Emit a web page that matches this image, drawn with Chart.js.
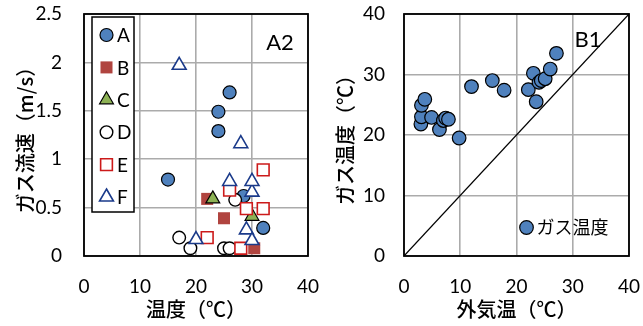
<!DOCTYPE html>
<html>
<head>
<meta charset="utf-8">
<script src="https://cdn.jsdelivr.net/npm/chart.js@4.4.1/dist/chart.umd.min.js"></script>
<style>
  html, body { margin: 0; padding: 0; background: #fff; }
  #wrap { position: relative; width: 643px; height: 326px; overflow: hidden; background: #fff; }
  canvas { position: absolute; top: 0; }
  #flowChart { left: 0; }
  #tempChart { left: 322px; }
</style>
</head>
<body>
<div id="wrap">
  <canvas id="flowChart" width="322" height="326"></canvas>
  <canvas id="tempChart" width="321" height="326"></canvas>
</div>
<script>
// ---- A2: gas flow velocity (m/s) against temperature (°C), six series ----
const seriesNames = ['A', 'B', 'C', 'D', 'E', 'F'];

const tempA = [15, 24, 24, 26, 28.5, 32];
const flowA = [0.79, 1.49, 1.29, 1.69, 0.62, 0.29];

const tempB = [22, 25, 30.4];
const flowB = [0.59, 0.39, 0.08];

const tempC = [23, 30];
const flowC = [0.59, 0.41];

const tempD = [17, 19, 25, 26, 27];
const flowD = [0.19, 0.08, 0.08, 0.08, 0.58];

const tempE = [22, 26, 28, 29, 32, 32];
const flowE = [0.19, 0.68, 0.08, 0.49, 0.49, 0.89];

const tempF = [17, 20, 26, 28, 29, 30, 30, 30];
const flowF = [1.97, 0.17, 0.77, 1.16, 0.27, 0.16, 0.66, 0.77];

const flowTicks = [0, 0.5, 1, 1.5, 2, 2.5];
const tempTicks = [0, 10, 20, 30, 40];

// ---- B1: gas temperature against outdoor temperature ----
const outdoorTemp = [3.0, 3.1, 3.1, 3.7, 4.9, 6.3, 7.0, 7.4, 7.9, 9.8, 12.0, 15.7, 17.8, 22.1, 23.0, 23.5, 24.0, 24.4, 25.1, 26.0, 27.1];
const gasTemp     = [21.8, 23.0, 24.9, 25.9, 22.9, 20.9, 22.4, 22.8, 22.6, 19.5, 28.0, 29.0, 27.4, 27.5, 30.2, 25.5, 28.7, 29.0, 29.3, 30.9, 33.5];
const equalLineX = [0, 40];
const equalLineY = [0, 40];
const gasTempTicks = [0, 10, 20, 30, 40];

const toPoints = (xs, ys) => xs.map((x, i) => ({ x, y: ys[i] }));

const LATIN = "Lato, 'Liberation Sans', sans-serif";
const CJK = "'Noto Sans CJK JP', sans-serif";
Chart.defaults.color = '#000';
Chart.defaults.font.family = LATIN;

const gridStyle = { color: '#ABABAB', lineWidth: 1.6, drawTicks: false };
const titleFont = { family: CJK, size: 20, weight: 500, lineHeight: 1.2 };
const tickFont = { size: 19, lineHeight: 1.2 };

// fixed axis box sizes, no extra label overhang padding
function fixedBox(prop, size) {
  return s => {
    s[prop] = size;
    s.paddingTop = 0; s.paddingBottom = 0; s.paddingLeft = 0; s.paddingRight = 0;
  };
}

// plot frame drawn under the markers
const framePlugin = {
  id: 'frame',
  beforeDatasetsDraw(chart) {
    const { ctx, chartArea: a } = chart;
    ctx.save();
    ctx.strokeStyle = '#000';
    ctx.lineWidth = 1.8;
    ctx.strokeRect(a.left, a.top, a.right - a.left, a.bottom - a.top);
    ctx.restore();
  }
};

// panel tag (A2 / B1) in the upper right of the plot
const tagPlugin = {
  id: 'tag',
  afterDraw(chart, args, opts) {
    const { ctx, chartArea: a } = chart;
    ctx.save();
    ctx.font = '22px ' + LATIN;
    ctx.fillStyle = '#000';
    ctx.textAlign = 'center';
    ctx.textBaseline = 'middle';
    ctx.fillText(opts.text, a.right + opts.dx, a.top + opts.dy);
    ctx.restore();
  }
};

function paintMarker(ctx, ds, x, y) {
  ctx.save();
  ctx.fillStyle = ds.pointBackgroundColor;
  ctx.strokeStyle = ds.pointBorderColor;
  ctx.lineWidth = ds.pointBorderWidth;
  Chart.helpers.drawPoint(ctx, {
    pointStyle: ds.pointStyle,
    rotation: 0,
    radius: ds.pointRadius,
    borderWidth: ds.pointBorderWidth
  }, x, y);
  ctx.restore();
}

// boxed vertical legend for the six series
const boxLegendPlugin = {
  id: 'boxLegend',
  afterDraw(chart) {
    const { ctx, chartArea: a } = chart;
    const left = a.left + 8, top = a.top + 3, w = 42, h = 195;
    ctx.save();
    ctx.fillStyle = '#fff';
    ctx.fillRect(left, top, w, h);
    ctx.strokeStyle = '#000';
    ctx.lineWidth = 1.5;
    ctx.strokeRect(left, top, w, h);
    ctx.font = '19px ' + LATIN;
    ctx.textAlign = 'left';
    ctx.textBaseline = 'middle';
    chart.data.datasets.forEach((ds, i) => {
      const y = top + 18 + i * 32.4;
      paintMarker(ctx, ds, left + 14.5, y);
      ctx.fillStyle = '#000';
      ctx.fillText(ds.label, left + 25, y + 1);
    });
    ctx.restore();
  }
};

// single-entry legend in the lower right of B1
const pointLegendPlugin = {
  id: 'pointLegend',
  afterDraw(chart) {
    const { ctx, chartArea: a } = chart;
    const ds = chart.data.datasets[0];
    const x = a.left + 122.5, y = a.top + 213.5;
    paintMarker(ctx, ds, x, y);
    ctx.save();
    ctx.font = '18px ' + CJK;
    ctx.fillStyle = '#000';
    ctx.textAlign = 'left';
    ctx.textBaseline = 'middle';
    ctx.fillText(ds.label, x + 10, y);
    ctx.restore();
  }
};

function series(label, xs, ys, style, fill, border, width, radius, order) {
  return {
    label, data: toPoints(xs, ys), order, clip: false,
    pointStyle: style, pointRadius: radius, pointHoverRadius: radius,
    pointBackgroundColor: fill, pointBorderColor: border, pointBorderWidth: width,
    showLine: false
  };
}

const plainLabel = v => String(v);

new Chart(document.getElementById('flowChart'), {
  type: 'scatter',
  data: {
    datasets: [
      series(seriesNames[0], tempA, flowA, 'circle',   '#4F81BD', '#000000', 1.2, 6.5, 6),
      series(seriesNames[1], tempB, flowB, 'rect',     '#B0443F', '#B0443F', 0,   8.5, 5),
      series(seriesNames[2], tempC, flowC, 'triangle', '#8DB255', '#000000', 1.2, 8,   4),
      series(seriesNames[3], tempD, flowD, 'circle',   '#FFFFFF', '#000000', 1.4, 6.3, 3),
      series(seriesNames[4], tempE, flowE, 'rect',     '#FFFFFF', '#CC1A1A', 1.6, 8.3, 2),
      series(seriesNames[5], tempF, flowF, 'triangle', '#FFFFFF', '#1A3A8A', 1.6, 8,   1)
    ]
  },
  options: {
    responsive: false,
    animation: false,
    events: [],
    layout: { padding: { top: 14, right: 14, left: 0, bottom: 0 } },
    plugins: {
      legend: { display: false },
      tooltip: { enabled: false },
      tag: { text: 'A2', dx: -28, dy: 29 }
    },
    scales: {
      x: {
        type: 'linear', min: tempTicks[0], max: tempTicks[tempTicks.length - 1],
        afterBuildTicks: s => { s.ticks = tempTicks.map(v => ({ value: v })); },
        afterFit: fixedBox('height', 70),
        grid: gridStyle, border: { display: false },
        ticks: { font: tickFont, padding: 19, maxRotation: 0, callback: plainLabel },
        title: { display: true, text: '温度（℃）', font: titleFont, padding: { top: 0, bottom: 5 } }
      },
      y: {
        type: 'linear', min: flowTicks[0], max: flowTicks[flowTicks.length - 1],
        afterBuildTicks: s => { s.ticks = flowTicks.map(v => ({ value: v })); },
        afterFit: fixedBox('width', 84),
        grid: gridStyle, border: { display: false },
        ticks: { font: tickFont, padding: 22, callback: plainLabel },
        title: { display: true, text: 'ガス流速（m/s）', font: titleFont, padding: { top: 13, bottom: 0 } }
      }
    }
  },
  plugins: [framePlugin, tagPlugin, boxLegendPlugin]
});

new Chart(document.getElementById('tempChart'), {
  type: 'scatter',
  data: {
    datasets: [
      series('ガス温度', outdoorTemp, gasTemp, 'circle', '#4F81BD', '#000000', 1.2, 6.8, 0),
      {
        type: 'line', label: 'y=x', data: toPoints(equalLineX, equalLineY), order: 1,
        borderColor: '#000', borderWidth: 1.2, pointRadius: 0, showLine: true, fill: false
      }
    ]
  },
  options: {
    responsive: false,
    animation: false,
    events: [],
    layout: { padding: { top: 14, right: 14, left: 0, bottom: 0 } },
    plugins: {
      legend: { display: false },
      tooltip: { enabled: false },
      tag: { text: 'B1', dx: -41, dy: 26 }
    },
    scales: {
      x: {
        type: 'linear', min: tempTicks[0], max: tempTicks[tempTicks.length - 1],
        afterBuildTicks: s => { s.ticks = tempTicks.map(v => ({ value: v })); },
        afterFit: fixedBox('height', 70),
        grid: gridStyle, border: { display: false },
        ticks: { font: tickFont, padding: 19, maxRotation: 0, callback: plainLabel },
        title: { display: true, text: '外気温（℃）', font: titleFont, padding: { top: 0, bottom: 5 } }
      },
      y: {
        type: 'linear', min: gasTempTicks[0], max: gasTempTicks[gasTempTicks.length - 1],
        afterBuildTicks: s => { s.ticks = gasTempTicks.map(v => ({ value: v })); },
        afterFit: fixedBox('width', 82),
        grid: gridStyle, border: { display: false },
        ticks: { font: tickFont, padding: 19, callback: plainLabel },
        title: { display: true, text: 'ガス温度（℃）', font: titleFont, padding: { top: 11, bottom: 0 } }
      }
    }
  },
  plugins: [framePlugin, tagPlugin, pointLegendPlugin]
});
</script>
</body>
</html>
